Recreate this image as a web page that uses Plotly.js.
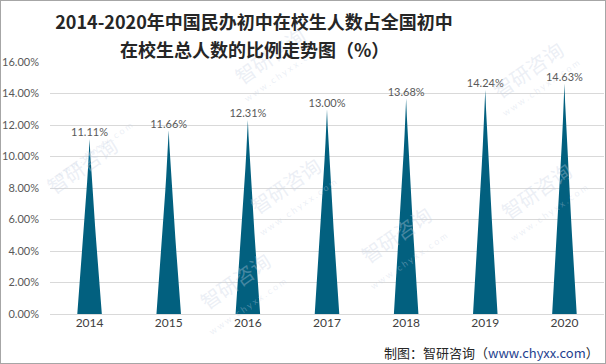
<!DOCTYPE html>
<html>
<head>
<meta charset="utf-8">
<script src="https://cdn.plot.ly/plotly-3.0.1.min.js"></script>
<style>
html,body{margin:0;padding:0;background:#fff;}
#wrap{position:relative;width:606px;height:364px;box-sizing:border-box;border:1px solid #a6a6a6;overflow:hidden;}
#chart{position:absolute;left:-1px;top:-1px;width:606px;height:364px;}
</style>
</head>
<body>
<div id="wrap"><div id="chart"></div></div>
<script>
// ---- data ----
var years = ["2014", "2015", "2016", "2017", "2018", "2019", "2020"];
var shares = [11.11, 11.66, 12.31, 13.00, 13.68, 14.24, 14.63];
var valueLabels = ["11.11%", "11.66%", "12.31%", "13.00%", "13.68%", "14.24%", "14.63%"];
var yTicks = [0, 2, 4, 6, 8, 10, 12, 14, 16];
var yTickLabels = ["0.00%", "2.00%", "4.00%", "6.00%", "8.00%", "10.00%", "12.00%", "14.00%", "16.00%"];
var titleLine1 = "2014-2020年中国民办初中在校生人数占全国初中";
var titleLine2 = "在校生总人数的比例走势图（%）";

// ---- spike shape built from each value ----
var halfW = 0.155;   // half base width in category units
var curve = 1.15;    // concavity of the spike sides
var traces = [];
years.forEach(function (yr, i) {
  var v = shares[i];
  var xs = [], ys = [];
  var n = 12;
  for (var k = 0; k <= n; k++) {
    var t = k / n;
    xs.push(i - halfW * Math.pow(1 - t, curve));
    ys.push(v * t);
  }
  for (var k = n - 1; k >= 0; k--) {
    var t = k / n;
    xs.push(i + halfW * Math.pow(1 - t, curve));
    ys.push(v * t);
  }
  traces.push({
    type: 'scatter', mode: 'lines', x: xs, y: ys,
    fill: 'toself', fillcolor: '#02607f',
    line: {width: 0, color: '#02607f'},
    hoverinfo: 'skip', showlegend: false
  });
});
traces.push({
  type: 'scatter', mode: 'text',
  x: years.map(function (_, i) { return i; }),
  y: shares, text: valueLabels,
  textposition: 'top center',
  textfont: {family: 'Lato, "Open Sans", sans-serif', size: 11, color: '#595959'},
  hoverinfo: 'skip', showlegend: false, cliponaxis: false
});

// ---- watermarks ----
var wmColor = 'rgba(200,210,228,0.35)';
var wmSpots = [[270, 18], [572, 32], [38, 128], [285, 185], [580, 190], [440, 272], [235, 318]];
var annotations = [];
wmSpots.forEach(function (p) {
  annotations.push({
    xref: 'paper', yref: 'paper', x: (p[0] - 50) / 554, y: (314 - p[1]) / 252,
    text: '智研咨询', showarrow: false, textangle: -35,
    font: {family: '"Noto Sans CJK SC", sans-serif', size: 20, color: wmColor}
  });
  annotations.push({
    xref: 'paper', yref: 'paper', x: (p[0] - 38) / 554, y: (314 - p[1] - 22) / 252,
    text: 'w w w . c h y x x . c o m', showarrow: false, textangle: -35,
    font: {family: 'Lato, sans-serif', size: 9, color: wmColor}
  });
});
// second title line
annotations.push({
  xref: 'paper', yref: 'paper', x: (254 - 50) / 554, y: 1, xanchor: 'center', yanchor: 'middle',
  yshift: 62 - 49, showarrow: false, text: titleLine2,
  font: {family: '"Noto Sans CJK SC", sans-serif', size: 18, color: '#262626', weight: 'bold'}
});
// footer source
annotations.push({
  xref: 'paper', yref: 'paper', x: 1, y: 0, xanchor: 'right', yanchor: 'middle',
  xshift: -3, yshift: -38, showarrow: false,
  text: '制图：智研咨询（<span style="color:#1f3f8f">www.chyxx.com</span>）',
  font: {family: '"Noto Sans CJK SC", sans-serif', size: 13, color: '#262626'}
});

var layout = {
  width: 606, height: 364,
  margin: {l: 50, r: 2, t: 62, b: 50, pad: 0},
  paper_bgcolor: '#ffffff', plot_bgcolor: '#ffffff',
  title: {
    text: titleLine1,
    xref: 'container', yref: 'container', x: 254 / 606, y: 1 - 23 / 364,
    xanchor: 'center', yanchor: 'middle',
    font: {family: '"Noto Sans CJK SC", sans-serif', size: 18, color: '#262626', weight: 'bold'}
  },
  xaxis: {
    range: [-0.5, 6.5], tickvals: years.map(function (_, i) { return i; }), ticktext: years,
    showgrid: false, zeroline: false, showline: false, ticks: '',
    tickfont: {family: 'Lato, "Open Sans", sans-serif', size: 12, color: '#404040'},
    fixedrange: true
  },
  yaxis: {
    range: [0, 16], tickvals: yTicks, ticktext: yTickLabels,
    showgrid: true, gridcolor: '#d9d9d9', gridwidth: 1, zeroline: true, zerolinecolor: '#d9d9d9',
    showline: false, ticks: '', ticklabelstandoff: 10,
    tickfont: {family: 'Lato, "Open Sans", sans-serif', size: 11, color: '#595959'},
    fixedrange: true
  },
  annotations: annotations,
  showlegend: false
};

Plotly.newPlot('chart', traces, layout, {displayModeBar: false, staticPlot: true});
</script>
</body>
</html>
